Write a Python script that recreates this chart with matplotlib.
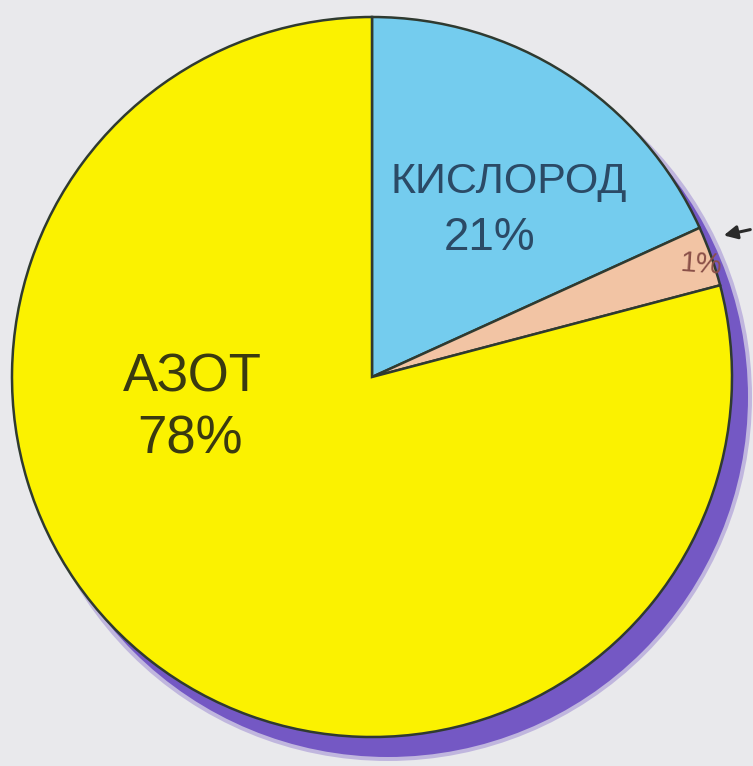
import matplotlib
matplotlib.use("Agg")
import matplotlib.pyplot as plt
from matplotlib.patches import Circle

# Data (drawn shares; labels as printed)
names = ["КИСЛОРОД", "", "АЗОТ"]
label_pct = ["21%", "1%", "78%"]
drawn_share = [18.2, 2.7, 79.1]
colors = ["#74ccee", "#f2c4a4", "#fbf200"]

W, H = 753, 766
fig = plt.figure(figsize=(W / 100, H / 100), dpi=100)
fig.patch.set_facecolor("#e9e9ec")
ax = fig.add_axes([0, 0, 1, 1])

cx, cy, r = 372, H - 377, 360

# shadow
for a, dr in [(0.35, 4), (1.0, 0)]:
    ax.add_patch(Circle((cx + 16, cy - 20), r + dr, facecolor="#7458c4",
                        edgecolor="none", alpha=a, zorder=1))

wedges, _ = ax.pie(drawn_share, colors=colors, startangle=90, counterclock=False,
                   center=(cx, cy), radius=r, frame=True,
                   wedgeprops=dict(edgecolor="#2f3a30", linewidth=1.8))
for w in wedges:
    w.set_zorder(2)
ax.set_xlim(0, W)
ax.set_ylim(0, H)
ax.set_aspect("equal")
ax.axis("off")

fam = ["Liberation Sans Narrow", "Liberation Sans", "DejaVu Sans"]
ax.text(509, H - 182, names[0], ha="center", va="center", fontsize=31,
        color="#2b4a66", family=fam, zorder=3)
ax.text(490, H - 238, label_pct[0], ha="center", va="center", fontsize=33,
        color="#2b4a66", family=fam, zorder=3)
ax.text(192, H - 378, names[2], ha="center", va="center", fontsize=38,
        color="#3a3a10", family=fam, zorder=3)
ax.text(190, H - 440, label_pct[2], ha="center", va="center", fontsize=38,
        color="#3a3a10", family=fam, zorder=3)
ax.text(701, H - 264, label_pct[1], ha="center", va="center", fontsize=21,
        color="#8a5048", family=fam, rotation=-4, zorder=3)

ax.annotate("", xy=(721, H - 236), xytext=(753, H - 229),
            arrowprops=dict(arrowstyle="-|>", color="#2a2a2a", lw=2.2,
                            mutation_scale=20), zorder=4)

fig.savefig("out.png", dpi=100, facecolor=fig.get_facecolor())
